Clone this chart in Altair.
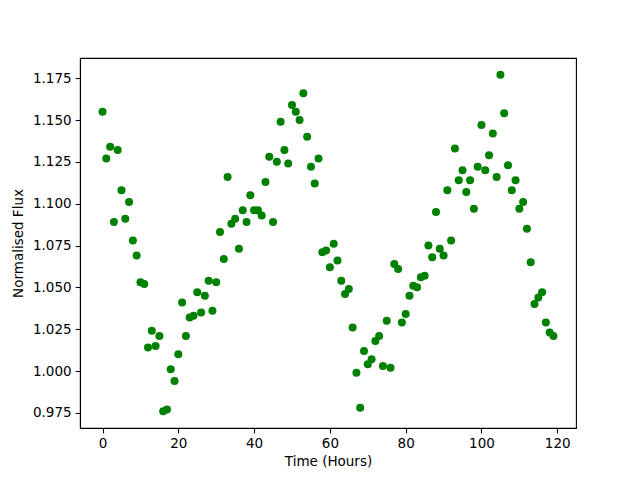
import altair as alt
import pandas as pd

hours = list(range(120))
flux = [
    1.155, 1.127, 1.134, 1.089, 1.132, 1.108, 1.091, 1.101, 1.078, 1.069,
    1.053, 1.052, 1.014, 1.024, 1.015, 1.021, 0.976, 0.977, 1.001, 0.994,
    1.010, 1.041, 1.021, 1.032, 1.033, 1.047, 1.035, 1.045, 1.054, 1.036,
    1.053, 1.083, 1.067, 1.116, 1.088, 1.091, 1.073, 1.096, 1.089, 1.105,
    1.096, 1.096, 1.093, 1.113, 1.128, 1.089, 1.125, 1.149, 1.132, 1.124,
    1.159, 1.155, 1.150, 1.166, 1.140, 1.122, 1.112, 1.127, 1.071, 1.072,
    1.062, 1.076, 1.066, 1.054, 1.046, 1.049, 1.026, 0.999, 0.978, 1.012,
    1.004, 1.007, 1.018, 1.021, 1.003, 1.030, 1.002, 1.064, 1.061, 1.029,
    1.034, 1.045, 1.051, 1.050, 1.056, 1.057, 1.075, 1.068, 1.095, 1.073,
    1.069, 1.108, 1.078, 1.133, 1.114, 1.120, 1.107, 1.114, 1.097, 1.122,
    1.147, 1.120, 1.129, 1.142, 1.116, 1.177, 1.154, 1.123, 1.108, 1.114,
    1.097, 1.101, 1.085, 1.065, 1.040, 1.044, 1.047, 1.029, 1.023, 1.021,
]
x_ticks = [0, 20, 40, 60, 80, 100, 120]
y_ticks = [0.975, 1.000, 1.025, 1.050, 1.075, 1.100, 1.125, 1.150, 1.175]

df = pd.DataFrame({"Time": hours, "Flux": flux})

xmin, xmax = min(hours), max(hours)
ymin, ymax = min(flux), max(flux)
xm = (xmax - xmin) * 0.05
ym = (ymax - ymin) * 0.05

font = "DejaVu Sans"

chart = alt.Chart(df).mark_circle(size=64, color="#008000", opacity=1).encode(
    x=alt.X("Time:Q", title="Time (Hours)",
            scale=alt.Scale(domain=[xmin - xm, xmax + xm], nice=False, zero=False),
            axis=alt.Axis(values=x_ticks, format="d", grid=False,
                          tickSize=4.86, labelPadding=4, titlePadding=4)),
    y=alt.Y("Flux:Q", title="Normalised Flux",
            scale=alt.Scale(domain=[ymin - ym, ymax + ym], nice=False, zero=False),
            axis=alt.Axis(values=y_ticks, format=".3f", grid=False,
                          tickSize=4.86, labelPadding=4, titlePadding=7)),
).properties(
    width=496, height=370,
    autosize=alt.AutoSizeParams(type="none"),
    padding={"left": 72, "top": 50, "right": 56, "bottom": 45},
).configure_view(
    stroke="black", strokeWidth=1.1
).configure_axis(
    domainColor="black", tickColor="black", labelColor="black", titleColor="black",
    labelFont=font, titleFont=font, labelFontSize=13.5, titleFontSize=13.5,
    titleFontWeight="normal", domainWidth=1.1, tickWidth=1.1,
)

chart.save("out.html", embed_options={"renderer": "svg", "actions": False})
